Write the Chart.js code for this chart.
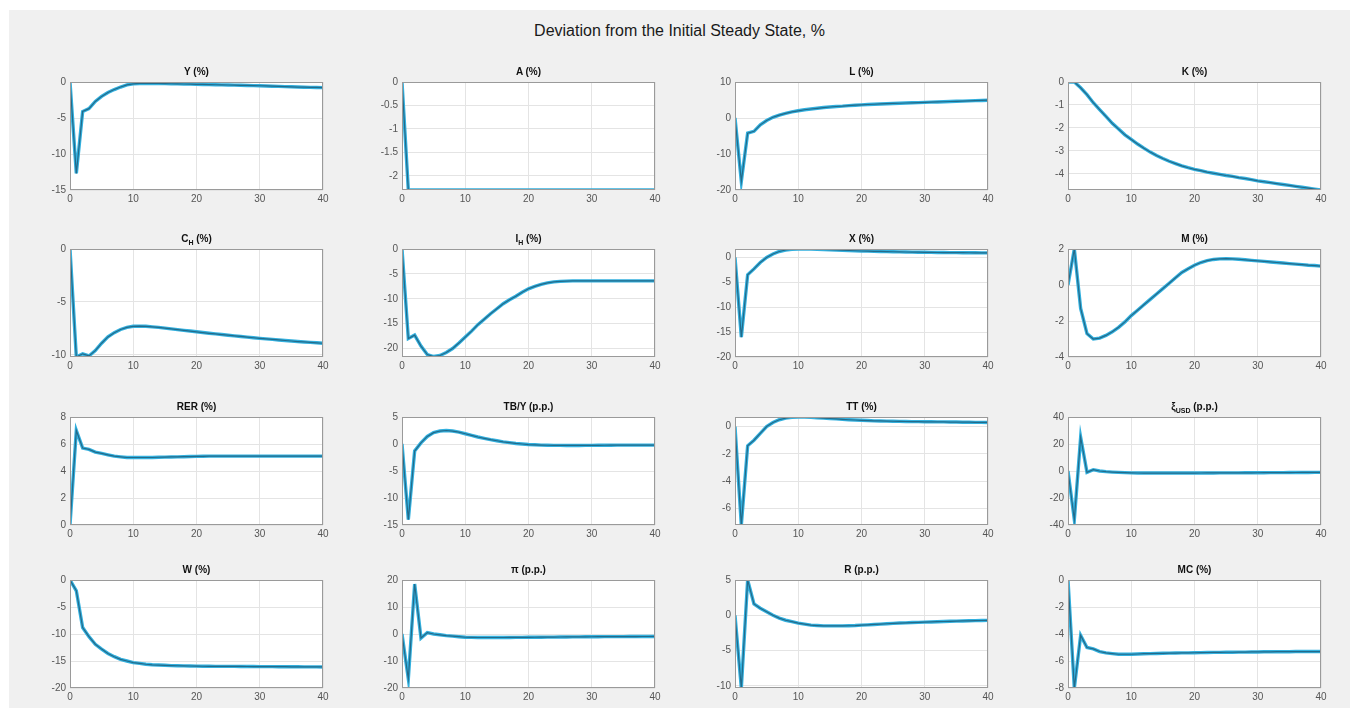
<!DOCTYPE html>
<html>
<head>
<meta charset="utf-8">
<script src="https://cdn.jsdelivr.net/npm/chart.js@4.4.1/dist/chart.umd.min.js"></script>
<style>
  body { margin: 0; background: #ffffff; width: 1359px; height: 717px; overflow: hidden; position: relative; font-family: "Liberation Sans", Arial, sans-serif; }
  #panel { position: absolute; left: 9px; top: 10px; width: 1341px; height: 698px; background: #f0f0f0; }
  #suptitle { position: absolute; left: 0; width: 1359px; top: 22px; text-align: center; font-size: 16px; color: #1a1a1a; }
  canvas { position: absolute; }
  .ttl { position: absolute; width: 253px; text-align: center; font-size: 10px; line-height: 12px; font-weight: bold; color: #111; }
  .ttl sub { font-size: 7px; vertical-align: -3px; }
</style>
</head>
<body>
<div id="panel"></div>
<div id="suptitle">Deviation from the Initial Steady State, %</div>
<script>
const periods = [0,1,2,3,4,5,6,7,8,9,10,11,12,13,14,15,16,17,18,19,20,21,22,23,24,25,26,27,28,29,30,31,32,33,34,35,36,37,38,39,40];
const xTicks = [0, 10, 20, 30, 40];

const titles = ['Y (%)', 'A (%)', 'L (%)', 'K (%)',
  'C<sub>H</sub> (%)', 'I<sub>H</sub> (%)', 'X (%)', 'M (%)',
  'RER (%)', 'TB/Y (p.p.)', 'TT (%)', '\u03be<sub>USD</sub> (p.p.)',
  'W (%)', '\u03c0 (p.p.)', 'R (p.p.)', 'MC (%)'];

const outputY = [0,-12.7,-4.1,-3.7,-2.7,-2.0,-1.45,-1.05,-0.7,-0.4,-0.25,-0.2,-0.2,-0.2,-0.2,-0.22,-0.24,-0.26,-0.28,-0.3,-0.32,-0.34,-0.36,-0.38,-0.4,-0.42,-0.44,-0.46,-0.48,-0.5,-0.52,-0.55,-0.58,-0.61,-0.64,-0.67,-0.7,-0.72,-0.74,-0.76,-0.78];
const productivityA = [0,-2.3,-2.3,-2.3,-2.3,-2.3,-2.3,-2.3,-2.3,-2.3,-2.3,-2.3,-2.3,-2.3,-2.3,-2.3,-2.3,-2.3,-2.3,-2.3,-2.3,-2.3,-2.3,-2.3,-2.3,-2.3,-2.3,-2.3,-2.3,-2.3,-2.3,-2.3,-2.3,-2.3,-2.3,-2.3,-2.3,-2.3,-2.3,-2.3,-2.3];
const laborL = [0,-17.6,-4.2,-3.7,-1.9,-0.7,0.2,0.8,1.3,1.7,2.0,2.3,2.5,2.7,2.9,3.05,3.2,3.3,3.45,3.55,3.65,3.75,3.82,3.9,3.97,4.04,4.1,4.16,4.22,4.28,4.34,4.4,4.46,4.52,4.58,4.64,4.7,4.76,4.82,4.88,4.95];
const capitalK = [0,0,-0.25,-0.55,-0.9,-1.2,-1.5,-1.8,-2.05,-2.3,-2.5,-2.7,-2.88,-3.05,-3.2,-3.33,-3.45,-3.55,-3.65,-3.73,-3.8,-3.86,-3.92,-3.97,-4.02,-4.07,-4.11,-4.16,-4.2,-4.25,-4.3,-4.34,-4.38,-4.42,-4.46,-4.5,-4.54,-4.58,-4.62,-4.66,-4.7];
const consumptionH = [0,-10.2,-9.9,-10.1,-9.6,-8.9,-8.3,-7.9,-7.6,-7.4,-7.3,-7.28,-7.3,-7.35,-7.4,-7.47,-7.54,-7.61,-7.68,-7.75,-7.82,-7.89,-7.96,-8.02,-8.08,-8.14,-8.2,-8.26,-8.32,-8.38,-8.44,-8.49,-8.54,-8.59,-8.64,-8.69,-8.74,-8.78,-8.82,-8.86,-8.9];
const investmentH = [0,-18,-17.3,-19.5,-21.2,-21.6,-21.4,-20.8,-20.0,-18.9,-17.7,-16.5,-15.2,-14.1,-13.0,-12.0,-11.0,-10.2,-9.5,-8.7,-8.0,-7.5,-7.1,-6.8,-6.6,-6.5,-6.45,-6.4,-6.4,-6.4,-6.4,-6.4,-6.4,-6.4,-6.4,-6.4,-6.4,-6.4,-6.4,-6.4,-6.4];
const exportsX = [0,-16,-3.5,-2.3,-1.0,0,0.7,1.2,1.5,1.65,1.7,1.7,1.68,1.65,1.6,1.55,1.5,1.45,1.4,1.35,1.3,1.27,1.24,1.21,1.18,1.15,1.12,1.1,1.08,1.06,1.04,1.02,1.0,0.99,0.98,0.97,0.96,0.95,0.94,0.93,0.92];
const importsM = [0,2.0,-1.3,-2.7,-3.0,-2.95,-2.8,-2.6,-2.35,-2.05,-1.7,-1.4,-1.1,-0.8,-0.5,-0.2,0.1,0.4,0.7,0.9,1.1,1.25,1.35,1.42,1.45,1.46,1.45,1.43,1.4,1.37,1.34,1.31,1.28,1.25,1.22,1.19,1.16,1.13,1.1,1.08,1.05];
const realExRate = [0,7.0,5.7,5.6,5.4,5.3,5.2,5.1,5.05,5.0,5.0,5.0,5.0,5.0,5.02,5.03,5.04,5.05,5.06,5.07,5.08,5.09,5.1,5.1,5.1,5.1,5.1,5.1,5.1,5.1,5.1,5.1,5.1,5.1,5.1,5.1,5.1,5.1,5.1,5.1,5.1];
const tradeBalance = [0,-14,-1.3,0.2,1.4,2.1,2.4,2.5,2.4,2.2,1.9,1.6,1.3,1.05,0.8,0.6,0.4,0.25,0.1,0,-0.1,-0.15,-0.2,-0.23,-0.25,-0.26,-0.27,-0.27,-0.27,-0.26,-0.25,-0.24,-0.23,-0.22,-0.21,-0.2,-0.2,-0.2,-0.2,-0.2,-0.2];
const termsOfTrade = [0,-7.2,-1.4,-1.0,-0.5,0,0.3,0.5,0.62,0.68,0.7,0.7,0.68,0.65,0.62,0.59,0.56,0.53,0.5,0.48,0.46,0.44,0.42,0.41,0.4,0.39,0.38,0.37,0.36,0.36,0.35,0.35,0.34,0.34,0.33,0.33,0.32,0.32,0.31,0.31,0.3];
const xiUSD = [0,-36,25,-1,1,0,-0.5,-0.8,-1.0,-1.2,-1.4,-1.5,-1.5,-1.5,-1.5,-1.5,-1.5,-1.5,-1.5,-1.5,-1.5,-1.48,-1.46,-1.44,-1.42,-1.4,-1.38,-1.36,-1.34,-1.32,-1.3,-1.27,-1.24,-1.21,-1.18,-1.15,-1.12,-1.09,-1.06,-1.03,-1.0];
const wageW = [0,-2,-8.8,-10.5,-11.9,-12.8,-13.6,-14.2,-14.7,-15.0,-15.3,-15.45,-15.6,-15.7,-15.75,-15.8,-15.85,-15.88,-15.91,-15.93,-15.95,-15.97,-15.98,-15.99,-16.0,-16.0,-16.0,-16.01,-16.02,-16.03,-16.04,-16.05,-16.05,-16.06,-16.06,-16.07,-16.07,-16.08,-16.08,-16.09,-16.1];
const inflationPi = [0,-16.6,18.5,-1.5,0.5,0,-0.3,-0.6,-0.8,-1.0,-1.2,-1.25,-1.3,-1.3,-1.3,-1.3,-1.3,-1.28,-1.26,-1.24,-1.22,-1.2,-1.18,-1.16,-1.14,-1.12,-1.1,-1.08,-1.06,-1.04,-1.02,-1.0,-0.99,-0.98,-0.97,-0.96,-0.95,-0.94,-0.93,-0.92,-0.9];
const rateR = [0,-10.3,5.0,1.6,1.0,0.5,0,-0.4,-0.7,-0.9,-1.1,-1.25,-1.4,-1.45,-1.5,-1.5,-1.5,-1.5,-1.48,-1.45,-1.4,-1.35,-1.3,-1.25,-1.2,-1.15,-1.1,-1.07,-1.03,-1.0,-0.97,-0.94,-0.91,-0.88,-0.85,-0.82,-0.8,-0.78,-0.76,-0.74,-0.72];
const marginalCost = [0,-8,-4.1,-5.0,-5.1,-5.3,-5.4,-5.45,-5.5,-5.5,-5.5,-5.48,-5.46,-5.45,-5.44,-5.43,-5.42,-5.41,-5.4,-5.4,-5.39,-5.38,-5.37,-5.36,-5.36,-5.35,-5.35,-5.34,-5.34,-5.33,-5.33,-5.32,-5.32,-5.31,-5.31,-5.31,-5.3,-5.3,-5.3,-5.3,-5.3];

const series = [outputY, productivityA, laborL, capitalK,
  consumptionH, investmentH, exportsX, importsM,
  realExRate, tradeBalance, termsOfTrade, xiUSD,
  wageW, inflationPi, rateR, marginalCost];

const yRanges = [[-15,0],[-2.3,0],[-20,10],[-4.7,0],
  [-10.2,0],[-21.7,0],[-20,1.7],[-4,2],
  [0,8],[-15,5],[-7.2,0.7],[-40,40],
  [-20,0],[-20,20],[-10.3,5],[-8,0]];

const yTicks = [[-15,-10,-5,0],[-2,-1.5,-1,-0.5,0],[-20,-10,0,10],[-4,-3,-2,-1,0],
  [-10,-5,0],[-20,-15,-10,-5,0],[-20,-15,-10,-5,0],[-4,-2,0,2],
  [0,2,4,6,8],[-15,-10,-5,0,5],[-6,-4,-2,0],[-40,-20,0,20,40],
  [-20,-15,-10,-5,0],[-20,-10,0,10,20],[-10,-5,0,5],[-8,-6,-4,-2,0]];

const colLefts = [70, 402, 735, 1068];
const rowTops = [82, 249, 417, 580];
const plotW = 253, plotH = 108;
const axisW = 40, titleH = 22, xAxisH = 16, padRight = 10;

const boxPlugin = {
  id: 'box',
  beforeDraw(chart) {
    const a = chart.chartArea, c = chart.ctx;
    c.save();
    c.fillStyle = '#ffffff';
    c.fillRect(a.left, a.top, a.right - a.left, a.bottom - a.top);
    c.restore();
  },
  afterDraw(chart) {
    const a = chart.chartArea, c = chart.ctx;
    c.save();
    c.strokeStyle = '#9a9a9a';
    c.lineWidth = 1;
    c.strokeRect(a.left + 0.5, a.top + 0.5, a.right - a.left - 1, a.bottom - a.top - 1);
    c.restore();
  }
};

const tickFont = { family: '"Liberation Sans", Arial, sans-serif', size: 10 };

series.forEach(function (values, i) {
  const col = i % 4, row = Math.floor(i / 4);
  const left = colLefts[col], top = rowTops[row];

  const canvas = document.createElement('canvas');
  canvas.width = axisW + plotW + padRight;
  canvas.height = titleH + plotH + xAxisH;
  canvas.style.left = (left - axisW) + 'px';
  canvas.style.top = (top - titleH) + 'px';
  document.body.appendChild(canvas);

  const ttl = document.createElement('div');
  ttl.className = 'ttl';
  ttl.innerHTML = titles[i];
  ttl.style.left = left + 'px';
  ttl.style.top = (top - 16) + 'px';
  document.body.appendChild(ttl);

  const points = values.map((v, k) => ({ x: periods[k], y: v }));
  const ticksY = yTicks[i];

  new Chart(canvas.getContext('2d'), {
    type: 'line',
    data: {
      datasets: [
        { data: points, borderColor: '#236a8a', borderWidth: 1.2, pointRadius: 0, tension: 0 },
        { data: points, borderColor: '#33b0de', borderWidth: 3.4, pointRadius: 0, tension: 0 }
      ]
    },
    options: {
      responsive: false,
      animation: false,
      layout: { padding: { top: titleH, right: padRight, left: 0, bottom: 0 } },
      plugins: { legend: { display: false }, tooltip: { enabled: false }, title: { display: false } },
      scales: {
        x: {
          type: 'linear',
          min: 0,
          max: 40,
          afterBuildTicks: function (scale) { scale.ticks = xTicks.map(v => ({ value: v })); },
          afterFit: function (scale) { scale.height = xAxisH; },
          grid: { color: '#e4e4e4', drawTicks: false },
          border: { display: false },
          ticks: { font: tickFont, color: '#555555', padding: 3, maxRotation: 0 }
        },
        y: {
          min: yRanges[i][0],
          max: yRanges[i][1],
          afterBuildTicks: function (scale) { scale.ticks = ticksY.map(v => ({ value: v })); },
          afterFit: function (scale) { scale.width = axisW; },
          grid: { color: '#e4e4e4', drawTicks: false },
          border: { display: false },
          ticks: {
            font: tickFont, color: '#555555', padding: 4,
            callback: function (value) { return String(value); }
          }
        }
      }
    },
    plugins: [boxPlugin]
  });
});
</script>
</body>
</html>
